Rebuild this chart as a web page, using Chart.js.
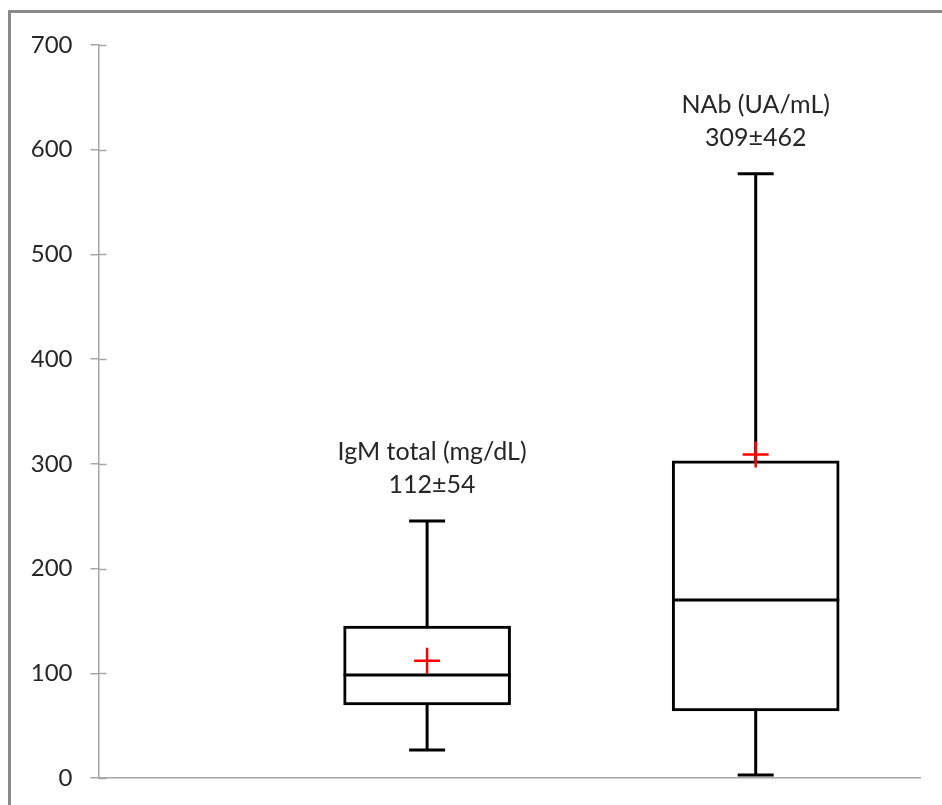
<!DOCTYPE html>
<html>
<head>
<meta charset="utf-8">
<script src="https://cdn.jsdelivr.net/npm/chart.js@4.4.1/dist/chart.umd.min.js"></script>
<style>
  html, body { margin: 0; padding: 0; background: #fff; }
  #wrap { position: absolute; left: 0; top: 0; width: 942px; height: 805px; }
  #frame { position: absolute; left: 8px; top: 10px; width: 940px; height: 800px;
           border-left: 3px solid #8a8a8a; border-top: 3px solid #8a8a8a; pointer-events: none; }
</style>
</head>
<body>
<div id="wrap"><canvas id="c" width="942" height="805"></canvas></div>
<div id="frame"></div>
<script>
// ---- data ----
const categories = ['IgM total (mg/dL)', 'NAb (UA/mL)'];
const positions  = [1, 2];
const whiskerMin = [26.7, 2.9];
const q1Values   = [69.7, 64.0];
const medians    = [98.4, 170.0];
const q3Values   = [145.0, 302.8];
const whiskerMax = [245.5, 577.0];
const means      = [112, 309];
const sds        = [54, 462];
const yTicks     = [0, 100, 200, 300, 400, 500, 600, 700];

// ---- build datasets ----
const boxData = positions.map((x, i) => ({ x: x, y: [q1Values[i], q3Values[i]] }));
const medianData = positions.map((x, i) => ({ x: x, y: medians[i] }));
const meanData = positions.map((x, i) => ({ x: x, y: means[i] }));
const whiskerData = [];
positions.forEach((x, i) => {
  if (i > 0) whiskerData.push({ x: (positions[i - 1] + x) / 2, y: null });
  whiskerData.push({ x: x, y: whiskerMin[i] });
  whiskerData.push({ x: x, y: whiskerMax[i] });
});

const annotationPlugin = {
  id: 'boxLabels',
  afterDatasetsDraw(chart) {
    const ctx = chart.ctx;
    const xs = chart.scales.x, ys = chart.scales.y;
    ctx.save();
    ctx.fillStyle = '#262626';
    ctx.font = '25px Lato';
    ctx.textAlign = 'center';
    ctx.textBaseline = 'alphabetic';
    positions.forEach((x, i) => {
      const px = xs.getPixelForValue(x) + (i === 0 ? 5 : 0);
      const py = ys.getPixelForValue(whiskerMax[i]);
      ctx.fillText(categories[i], px, py - 61);
      ctx.fillText(means[i] + '\u00B1' + sds[i], px, py - 28);
    });
    ctx.restore();
  }
};

const innerTicksPlugin = {
  id: 'innerTicks',
  afterDraw(chart) {
    const ctx = chart.ctx;
    const ys = chart.scales.y;
    const left = chart.chartArea.left;
    ctx.save();
    ctx.strokeStyle = '#a6a6a6';
    ctx.lineWidth = 1.5;
    yTicks.forEach(v => {
      const py = Math.round(ys.getPixelForValue(v)) + 0.5;
      ctx.beginPath();
      ctx.moveTo(left, py);
      ctx.lineTo(left + 8, py);
      ctx.stroke();
    });
    ctx.restore();
  }
};

new Chart(document.getElementById('c'), {
  type: 'bar',
  data: {
    datasets: [
      {
        type: 'scatter',
        label: 'mean',
        data: meanData,
        pointStyle: 'cross',
        pointRadius: 13,
        pointHoverRadius: 13,
        borderColor: '#ff0000',
        backgroundColor: '#ff0000',
        pointBorderWidth: 2.5,
        clip: false,
        order: 0
      },
      {
        type: 'scatter',
        label: 'median',
        data: medianData,
        pointStyle: 'line',
        pointRadius: 83.5,
        pointHoverRadius: 83.5,
        borderColor: '#000',
        pointBorderWidth: 3,
        clip: false,
        order: 1
      },
      {
        type: 'bar',
        label: 'box',
        data: boxData,
        backgroundColor: '#ffffff',
        borderColor: '#000000',
        borderWidth: 3,
        borderSkipped: false,
        barThickness: 167,
        grouped: false,
        order: 2
      },
      {
        type: 'line',
        label: 'whiskers',
        data: whiskerData,
        borderColor: '#000',
        borderWidth: 3,
        spanGaps: false,
        pointStyle: 'line',
        pointRadius: 18,
        pointHoverRadius: 18,
        pointBorderWidth: 3,
        pointBorderColor: '#000',
        fill: false,
        clip: false,
        order: 3
      }
    ]
  },
  plugins: [annotationPlugin, innerTicksPlugin],
  options: {
    responsive: false,
    animation: false,
    events: [],
    layout: { autoPadding: false, padding: { left: 0, top: 45, right: 22, bottom: 27 } },
    plugins: { legend: { display: false }, tooltip: { enabled: false } },
    scales: {
      x: {
        type: 'linear',
        min: 0,
        max: 2.5,
        offset: false,
        grid: { display: false },
        border: { display: true, color: '#a6a6a6', width: 1.5 },
        ticks: { display: false },
        afterFit(scale) { scale.height = 0; scale.paddingLeft = 0; scale.paddingRight = 0; }
      },
      y: {
        type: 'linear',
        min: 0,
        max: 700,
        afterBuildTicks(scale) { scale.ticks = yTicks.map(v => ({ value: v })); },
        grid: { display: true, drawOnChartArea: false, drawTicks: true, tickLength: 8, color: '#a6a6a6', lineWidth: 1.5 },
        border: { display: true, color: '#a6a6a6', width: 1.5 },
        ticks: { color: '#262626', font: { family: 'Lato', size: 24 }, padding: 18 },
        afterFit(scale) { scale.width = 98.5; scale.paddingTop = 0; scale.paddingBottom = 0; }
      }
    }
  }
});
</script>
</body>
</html>
